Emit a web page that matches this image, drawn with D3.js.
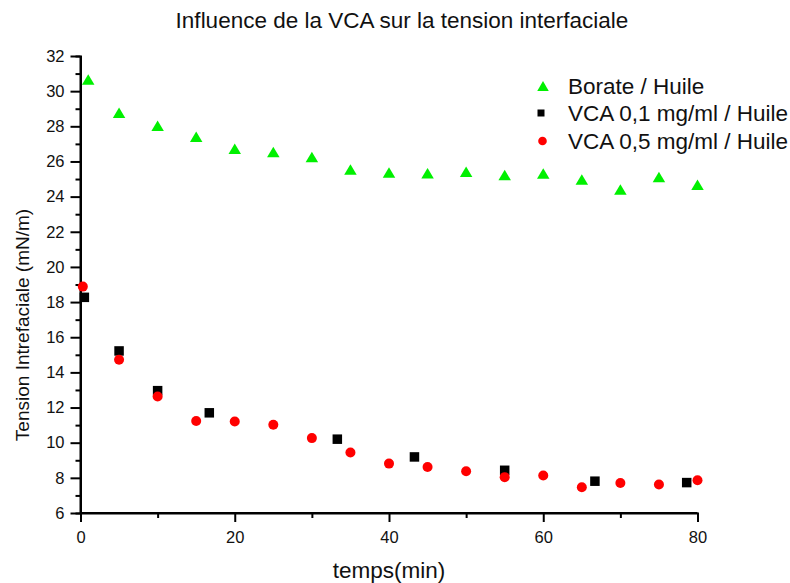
<!DOCTYPE html>
<html>
<head>
<meta charset="utf-8">
<script src="https://cdn.jsdelivr.net/npm/d3@7"></script>
<style>
  html, body { margin: 0; padding: 0; background: #fff; }
  svg { display: block; font-family: "Liberation Sans", Arial, sans-serif; }
</style>
</head>
<body>
<svg id="chart" width="790" height="583"></svg>
<script>
// Interfacial tension measurements (mN/m) against time (min)
const borateTime   = [1, 5, 10, 15, 20, 25, 30, 35, 40, 45, 50, 55, 60, 65, 70, 75, 80];
const borateValues = [30.67, 28.77, 28.03, 27.40, 26.73, 26.54, 26.26, 25.54, 25.37, 25.33, 25.42, 25.23, 25.31, 24.97, 24.40, 25.12, 24.68];

const vca01Time   = [0.5, 5, 10, 16.7, 33.3, 43.3, 55, 66.7, 78.6];
const vca01Values = [18.27, 15.22, 12.96, 11.70, 10.20, 9.19, 8.43, 7.81, 7.73];

const vca05Time   = [0.3, 5, 10, 15, 20, 25, 30, 35, 40, 45, 50, 55, 60, 65, 70, 75, 80];
const vca05Values = [18.88, 14.72, 12.63, 11.23, 11.21, 11.02, 10.26, 9.44, 8.81, 8.62, 8.38, 8.04, 8.13, 7.46, 7.71, 7.62, 7.86];

const seriesNames = ["Borate / Huile", "VCA 0,1 mg/ml / Huile", "VCA 0,5 mg/ml / Huile"];
const xTicks = [0, 20, 40, 60, 80];
const xMinorTicks = [10, 30, 50, 70];
const yTicks = [6, 8, 10, 12, 14, 16, 18, 20, 22, 24, 26, 28, 30, 32];
const yMinorTicks = [7, 9, 11, 13, 15, 17, 19, 21, 23, 25, 27, 29, 31];

const chartTitle = "Influence de la VCA sur la tension interfaciale";
const xTitle = "temps(min)";
const yTitle = "Tension Intrefaciale (mN/m)";

const GREEN = "#00f000", BLACK = "#000000", RED = "#ff0000";

const svg = d3.select("#chart");
const margin = { left: 80.5, right: 92.5, top: 56, bottom: 70 };
const W = 790, H = 583;

const x = d3.scaleLinear().domain([0, 80]).range([margin.left, W - margin.right]);
const y = d3.scaleLinear().domain([6, 32]).range([H - margin.bottom, margin.top]);

svg.append("rect").attr("width", W).attr("height", H).attr("fill", "#fff");

// title
svg.append("text")
  .attr("x", 402).attr("y", 28)
  .attr("text-anchor", "middle")
  .attr("font-size", 22.5)
  .attr("fill", "#111")
  .text(chartTitle);

// x axis
const xAxisG = svg.append("g").attr("transform", `translate(0,${y(6)})`);
xAxisG.call(d3.axisBottom(x).tickValues(xTicks).tickSize(9).tickPadding(9).tickFormat(d3.format("d")));
xAxisG.append("g").call(d3.axisBottom(x).tickValues(xMinorTicks).tickSize(5).tickFormat(""));

// y axis
const yAxisG = svg.append("g").attr("transform", `translate(${x(0)},0)`);
yAxisG.call(d3.axisLeft(y).tickValues(yTicks).tickSize(10).tickPadding(6).tickFormat(d3.format("d")));
yAxisG.append("g").call(d3.axisLeft(y).tickValues(yMinorTicks).tickSize(5).tickFormat(""));

svg.selectAll(".domain").attr("stroke", "#000").attr("stroke-width", 2);
svg.selectAll(".tick line").attr("stroke", "#000").attr("stroke-width", 2);
svg.selectAll(".tick text")
  .attr("font-family", "'Liberation Sans', Arial, sans-serif")
  .attr("font-size", 16.5)
  .attr("fill", "#111");
// keep the domain paths plain lines without end caps
xAxisG.select(".domain").attr("d", `M${x(0)},0H${x(80)}`);
yAxisG.select(".domain").attr("d", `M0,${y(6)}V${y(32)}`);

// axis titles
svg.append("text")
  .attr("x", 389).attr("y", 578)
  .attr("text-anchor", "middle")
  .attr("font-size", 22.5)
  .attr("fill", "#111")
  .text(xTitle);

svg.append("text")
  .attr("transform", "translate(29,325) rotate(-90)")
  .attr("text-anchor", "middle")
  .attr("font-size", 19)
  .attr("fill", "#111")
  .text(yTitle);

// marker shapes
function triPath(w, h) {
  return `M0,${-h / 2}L${w / 2},${h / 2}L${-w / 2},${h / 2}Z`;
}
const circleR = 5;
const squareS = 9.5;

const plot = svg.append("g");

plot.selectAll("path.borate")
  .data(d3.zip(borateTime, borateValues))
  .join("path")
  .attr("class", "borate")
  .attr("d", triPath(12.5, 10.5))
  .attr("transform", d => `translate(${x(d[0])},${y(d[1])})`)
  .attr("fill", GREEN);

plot.selectAll("rect.vca01")
  .data(d3.zip(vca01Time, vca01Values))
  .join("rect")
  .attr("class", "vca01")
  .attr("x", d => x(d[0]) - squareS / 2)
  .attr("y", d => y(d[1]) - squareS / 2)
  .attr("width", squareS).attr("height", squareS)
  .attr("fill", BLACK);

plot.selectAll("circle.vca05")
  .data(d3.zip(vca05Time, vca05Values))
  .join("circle")
  .attr("class", "vca05")
  .attr("cx", d => x(d[0]))
  .attr("cy", d => y(d[1]))
  .attr("r", circleR)
  .attr("fill", RED);

// legend
const legend = svg.append("g");
const legendRows = [86, 113, 141];
legend.append("path").attr("d", triPath(11.5, 10)).attr("transform", `translate(543,${legendRows[0]})`).attr("fill", GREEN);
legend.append("rect").attr("x", 541 - 3.5).attr("y", legendRows[1] - 3.5).attr("width", 7).attr("height", 7).attr("fill", BLACK);
legend.append("circle").attr("cx", 542.5).attr("cy", legendRows[2]).attr("r", 4.3).attr("fill", RED);
legend.selectAll("text")
  .data(seriesNames)
  .join("text")
  .attr("x", 568)
  .attr("y", (d, i) => legendRows[i] + 8)
  .attr("font-size", 22.5)
  .attr("fill", "#111")
  .text(d => d);
</script>
</body>
</html>
